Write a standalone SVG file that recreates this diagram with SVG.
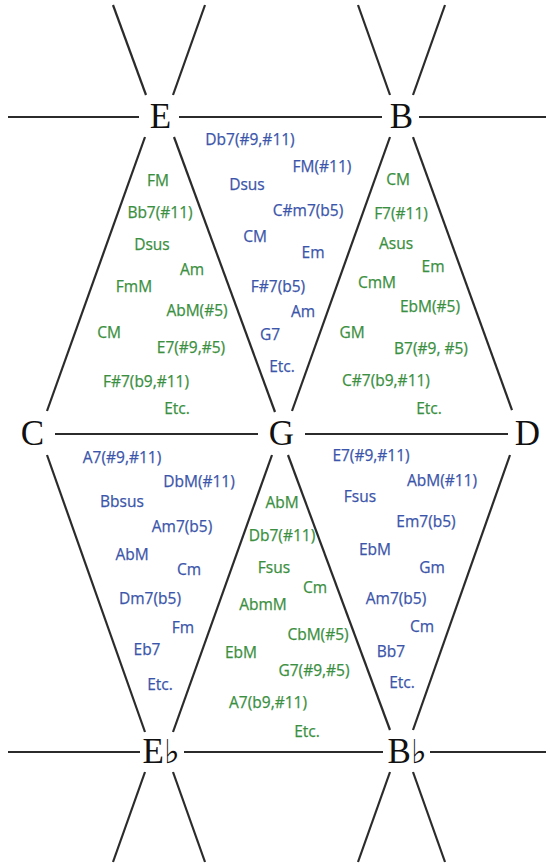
<svg xmlns="http://www.w3.org/2000/svg" width="546" height="863" viewBox="0 0 546 863">
<style>
.edge{stroke:#2b2b2b;stroke-width:2.2;fill:none;stroke-linecap:butt}
.node{font-family:"Liberation Serif","Times New Roman",serif;font-size:35px;fill:#111;text-anchor:middle}
.flat{font-family:"DejaVu Serif","DejaVu Sans",serif;font-size:33px}
.c{font-family:"Open Sans","Noto Sans",sans-serif;font-size:15.5px;text-anchor:middle;stroke-width:0.25px}
.b{fill:#3b55aa;stroke:#3b55aa}
.g{fill:#3a8f40;stroke:#3a8f40}
</style>
<rect width="546" height="863" fill="#ffffff"/>
<g id="connectors" class="edge">
<line x1="8" y1="117" x2="139" y2="117"/>
<line x1="179" y1="117" x2="382" y2="117"/>
<line x1="419" y1="117" x2="546" y2="117"/>
<line x1="113" y1="5" x2="146" y2="95"/>
<line x1="205" y1="5" x2="173" y2="95"/>
<line x1="358" y1="5" x2="390" y2="95"/>
<line x1="445" y1="5" x2="413" y2="95"/>
<line x1="145" y1="137" x2="47" y2="411"/>
<line x1="174" y1="137" x2="275" y2="412"/>
<line x1="390" y1="137" x2="292" y2="411"/>
<line x1="413" y1="137" x2="512" y2="410"/>
<line x1="55" y1="434" x2="258" y2="434"/>
<line x1="305" y1="434" x2="508" y2="434"/>
<line x1="47" y1="455" x2="145" y2="732"/>
<line x1="272" y1="455" x2="173" y2="732"/>
<line x1="288" y1="455" x2="390" y2="730"/>
<line x1="510" y1="455" x2="413" y2="730"/>
<line x1="8" y1="752" x2="140" y2="752"/>
<line x1="184" y1="752" x2="383" y2="752"/>
<line x1="430" y1="752" x2="546" y2="752"/>
<line x1="145" y1="772" x2="113" y2="862"/>
<line x1="173" y1="772" x2="205" y2="862"/>
<line x1="390" y1="772" x2="358" y2="862"/>
<line x1="413" y1="772" x2="445" y2="862"/>
</g>
<g id="node-E"><text class="node" x="160.5" y="128">E</text></g>
<g id="node-B"><text class="node" x="401.5" y="128">B</text></g>
<g id="node-C"><text class="node" x="32.5" y="445">C</text></g>
<g id="node-G"><text class="node" x="281.5" y="445">G</text></g>
<g id="node-D"><text class="node" x="527.5" y="445">D</text></g>
<g id="node-Eb"><text class="node" x="161" y="763">E<tspan class="flat">♭</tspan></text></g>
<g id="node-Bb"><text class="node" x="407" y="763">B<tspan class="flat">♭</tspan></text></g>
<g id="chords-ECG" class="c g">
<text x="158" y="186">FM</text>
<text x="160" y="217.5">Bb7(#11)</text>
<text x="152" y="250">Dsus</text>
<text x="192" y="275">Am</text>
<text x="134" y="292">FmM</text>
<text x="197" y="316">AbM(#5)</text>
<text x="109" y="338">CM</text>
<text x="191" y="353">E7(#9,#5)</text>
<text x="146" y="387">F#7(b9,#11)</text>
<text x="177" y="414">Etc.</text>
</g>
<g id="chords-EBG" class="c b">
<text x="250" y="145">Db7(#9,#11)</text>
<text x="322" y="172">FM(#11)</text>
<text x="247" y="190">Dsus</text>
<text x="308" y="216">C#m7(b5)</text>
<text x="255" y="242">CM</text>
<text x="313" y="258">Em</text>
<text x="278" y="292">F#7(b5)</text>
<text x="303" y="317">Am</text>
<text x="270" y="340">G7</text>
<text x="282" y="372">Etc.</text>
</g>
<g id="chords-BGD" class="c g">
<text x="398" y="185">CM</text>
<text x="401" y="219">F7(#11)</text>
<text x="396" y="249">Asus</text>
<text x="433" y="272">Em</text>
<text x="377" y="288">CmM</text>
<text x="430" y="312">EbM(#5)</text>
<text x="352" y="338">GM</text>
<text x="431" y="354">B7(#9, #5)</text>
<text x="386" y="386">C#7(b9,#11)</text>
<text x="429" y="414">Etc.</text>
</g>
<g id="chords-CGEb" class="c b">
<text x="122" y="463">A7(#9,#11)</text>
<text x="199" y="487">DbM(#11)</text>
<text x="122" y="507">Bbsus</text>
<text x="182" y="532">Am7(b5)</text>
<text x="132" y="560">AbM</text>
<text x="189" y="575">Cm</text>
<text x="150" y="604">Dm7(b5)</text>
<text x="183" y="633">Fm</text>
<text x="147" y="655">Eb7</text>
<text x="160" y="690">Etc.</text>
</g>
<g id="chords-GEbBb" class="c g">
<text x="282" y="508">AbM</text>
<text x="282" y="541">Db7(#11)</text>
<text x="274" y="573">Fsus</text>
<text x="315" y="593">Cm</text>
<text x="263" y="610">AbmM</text>
<text x="318" y="640">CbM(#5)</text>
<text x="241" y="658">EbM</text>
<text x="314" y="676">G7(#9,#5)</text>
<text x="268" y="708">A7(b9,#11)</text>
<text x="307" y="737">Etc.</text>
</g>
<g id="chords-GDBb" class="c b">
<text x="371" y="461">E7(#9,#11)</text>
<text x="442" y="486">AbM(#11)</text>
<text x="360" y="502">Fsus</text>
<text x="426" y="527">Em7(b5)</text>
<text x="375" y="555">EbM</text>
<text x="432" y="573">Gm</text>
<text x="396" y="604">Am7(b5)</text>
<text x="422" y="632">Cm</text>
<text x="391" y="657">Bb7</text>
<text x="402" y="688">Etc.</text>
</g>
</svg>
